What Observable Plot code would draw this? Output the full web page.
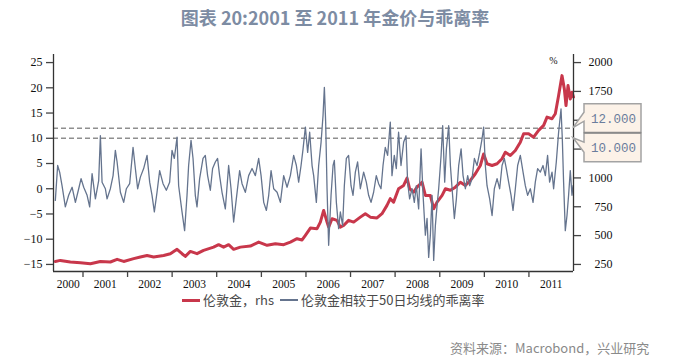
<!DOCTYPE html>
<html><head><meta charset="utf-8">
<script src="https://cdn.jsdelivr.net/npm/d3@7"></script>
<script src="https://cdn.jsdelivr.net/npm/@observablehq/plot@0.6"></script>
<style>
body{margin:0;background:#fff;}
#wrap{position:relative;width:688px;height:362px;overflow:hidden;font-family:"Noto Sans CJK SC",sans-serif;}
#chart{position:absolute;left:0;top:0;}
#title{position:absolute;left:0;top:6px;width:670px;text-align:center;font-size:18px;line-height:22px;font-weight:bold;color:#7d8ca3;}
#legend{position:absolute;left:182px;top:292px;font-size:13px;line-height:16px;color:#4a4a4a;display:flex;align-items:center;white-space:nowrap;}
.sw{display:inline-block;width:18px;margin-right:3px;}
#source{position:absolute;left:450px;top:339px;font-size:13px;line-height:18px;color:#8a8a8a;white-space:nowrap;}
</style></head>
<body>
<div id="wrap">
<div id="chart"></div>
<div id="title"></div>
<div id="legend"></div>
<div id="source"></div>
</div>
<script>
// ---------- text ----------
const titleText = "图表 20:2001 至 2011 年金价与乖离率";
const sourceText = "资料来源：Macrobond，兴业研究";
const seriesNames = ["伦敦金，rhs", "伦敦金相较于50日均线的乖离率"];
const unitLabel = "%";
const calloutLabels = ["12.000", "10.000"];

// ---------- axes ----------
const leftTicks = [-15, -10, -5, 0, 5, 10, 15, 20, 25];
const rightTicks = [250, 500, 750, 1000, 1250, 1500, 1750, 2000];
const rightLabels = [250, 500, 750, 1000, 1750, 2000];   // 1250 / 1500 sit behind the callouts
const yearLabels = [2000, 2001, 2002, 2003, 2004, 2005, 2006, 2007, 2008, 2009, 2010, 2011];
const xStart = 2000.34, xEnd = 2012.0;       // decimal years
const yLeftDomain = [-16.4, 26.6];
const refLines = [12, 10];
// right axis (USD) aligned to left axis (%): 25 <-> 2000, -15 <-> 250
const rhsAt0 = 906.25, rhsPerUnit = 43.75;

// ---------- data: [decimal year, value] ----------
const goldPrice = [
[2000.381,276],[2000.493,285],[2000.717,271],[2000.942,265],[2001.166,256],[2001.390,276],[2001.614,271],
[2001.765,294],[2001.913,276],[2002.137,300],[2002.287,315],[2002.437,328],[2002.585,315],[2002.809,328],
[2002.960,343],[2003.110,381],[2003.222,343],[2003.296,320],[2003.408,363],[2003.558,343],[2003.706,372],
[2003.930,400],[2004.043,421],[2004.155,400],[2004.267,421],[2004.379,381],[2004.529,400],[2004.753,409],
[2004.939,444],[2005.128,416],[2005.314,430],[2005.500,421],[2005.650,444],[2005.800,473],[2005.913,462],
[2005.987,502],[2006.099,565],[2006.249,560],[2006.323,617],[2006.397,718],[2006.473,617],[2006.509,574],
[2006.585,646],[2006.697,632],[2006.771,574],[2006.845,588],[2006.957,632],[2007.070,617],[2007.220,660],
[2007.332,690],[2007.444,660],[2007.594,653],[2007.706,690],[2007.818,762],[2007.892,820],[2007.966,790],
[2008.078,906],[2008.191,935],[2008.267,998],[2008.325,906],[2008.415,877],[2008.491,920],[2008.603,963],
[2008.677,848],[2008.789,848],[2008.863,733],[2008.939,790],[2009.052,848],[2009.126,906],[2009.238,893],
[2009.350,920],[2009.462,963],[2009.574,935],[2009.686,978],[2009.798,1036],[2009.910,1108],[2009.984,1208],
[2010.060,1123],[2010.173,1108],[2010.285,1123],[2010.397,1166],[2010.471,1223],[2010.583,1194],[2010.695,1238],
[2010.807,1310],[2010.881,1383],[2010.993,1383],[2011.105,1353],[2011.217,1412],[2011.330,1455],[2011.406,1527],
[2011.518,1513],[2011.592,1556],[2011.666,1715],[2011.742,1887],[2011.794,1772],[2011.832,1628],[2011.877,1801],
[2011.928,1685],[2011.966,1743],[2012.000,1700]
];
const deviation = [
[2000.381,-2.3],[2000.433,4.6],[2000.478,3.3],[2000.531,0.6],[2000.605,-3.6],[2000.679,-1.3],[2000.756,0.3],
[2000.830,-2.7],[2000.904,0],[2000.957,2],[2001.016,0.3],[2001.092,-1.3],[2001.150,-3.6],[2001.204,3],
[2001.278,-2],[2001.352,1.6],[2001.390,10.5],[2001.428,1.3],[2001.502,0],[2001.540,-2],[2001.614,0],
[2001.675,2.6],[2001.726,7.6],[2001.765,5.3],[2001.839,-0.7],[2001.913,-2.7],[2001.973,0],[2002.047,1],
[2002.123,8.2],[2002.175,4],[2002.226,0],[2002.287,2.3],[2002.361,4],[2002.437,6.6],[2002.496,1.3],
[2002.549,-1.3],[2002.601,-4.6],[2002.661,-0.7],[2002.720,3.6],[2002.796,1],[2002.870,-0.3],[2002.944,1.3],
[2002.998,7.6],[2003.049,6],[2003.110,10.2],[2003.146,0.6],[2003.222,-4.6],[2003.280,-8.3],
[2003.334,-1.3],[2003.370,4.6],[2003.424,9.6],[2003.469,6],[2003.520,-1.3],[2003.558,-3.6],[2003.617,2],
[2003.693,6],[2003.744,6.6],[2003.796,2.6],[2003.857,-0.3],[2003.908,4],[2003.969,5.3],[2004.020,6],
[2004.065,2.6],[2004.119,-0.7],[2004.193,-4],[2004.267,4.6],[2004.321,0],[2004.379,-6.6],[2004.439,-2],
[2004.513,3.6],[2004.567,1],[2004.641,-0.7],[2004.715,2.6],[2004.791,4],[2004.865,2.6],[2004.939,6],
[2004.993,2.6],[2005.052,-2.7],[2005.112,-4.3],[2005.164,-1.3],[2005.217,3.6],[2005.276,0],[2005.352,-0.7],
[2005.426,-2.7],[2005.500,2.6],[2005.576,0.3],[2005.650,2.6],[2005.724,6.6],[2005.785,4.6],[2005.836,1.3],
[2005.890,4.6],[2005.935,7.9],[2005.987,12.2],[2006.038,7.2],[2006.083,11.2],[2006.137,4.6],
[2006.173,2.6],[2006.233,-2.7],[2006.285,4.6],[2006.339,9.2],[2006.383,14.5],[2006.413,20.1],[2006.442,13.2],
[2006.473,0],[2006.509,-11.2],[2006.563,-1.3],[2006.608,4.6],[2006.637,5.6],[2006.682,-2.7],[2006.733,-7.9],
[2006.771,-4.6],[2006.823,-7.3],[2006.861,0.6],[2006.906,6],[2006.957,6.6],[2007.011,0.6],[2007.056,-1.3],
[2007.108,3.3],[2007.159,5.3],[2007.220,0],[2007.294,3.3],[2007.354,1.3],[2007.406,-1.3],[2007.460,-2.7],
[2007.518,-0.7],[2007.578,2.6],[2007.630,1],[2007.684,0],[2007.729,4.6],[2007.780,8.2],[2007.832,6.6],
[2007.892,13.2],[2007.930,2.6],[2007.982,6.6],[2008.027,4],[2008.078,11.2],[2008.132,4.6],[2008.191,9.2],
[2008.244,10.5],[2008.280,1.3],[2008.325,-2],[2008.379,0],[2008.430,-2.7],[2008.475,0.6],[2008.527,-4],
[2008.581,7.9],[2008.626,-1.3],[2008.677,-9.2],[2008.715,-5.9],[2008.751,-13.6],[2008.789,-9.2],[2008.827,-1.3],
[2008.863,-14.2],[2008.901,-7.3],[2008.939,-3.3],[2008.975,0],[2009.029,6.6],[2009.065,12.5],[2009.110,1.3],
[2009.148,7.9],[2009.200,12.5],[2009.238,4.6],[2009.276,0],[2009.327,-5.9],[2009.372,-2],[2009.424,4.6],
[2009.478,7.9],[2009.522,2.6],[2009.574,0],[2009.626,2.6],[2009.670,0.6],[2009.724,2],[2009.776,6],
[2009.836,4.6],[2009.895,7.2],[2009.948,9.9],[2009.984,12.2],[2010.022,4.6],[2010.060,0.6],[2010.119,-2],
[2010.173,-5.3],[2010.224,0],[2010.285,2],[2010.343,0],[2010.397,4.6],[2010.448,6],[2010.493,4],
[2010.545,1.3],[2010.599,-1.3],[2010.643,-4.3],[2010.695,0],[2010.747,4.6],[2010.807,6.6],[2010.868,3.3],
[2010.919,0.6],[2010.971,-1.3],[2011.031,0],[2011.092,-2.7],[2011.143,1.3],[2011.195,4],[2011.256,3.3],
[2011.316,4.6],[2011.368,2.6],[2011.419,6.6],[2011.464,1.3],[2011.518,3.3],[2011.554,0],[2011.614,5.3],
[2011.666,11.2],[2011.720,15.8],[2011.749,9.9],[2011.778,1.3],[2011.816,-8.3],[2011.854,-5.3],[2011.890,-1.3],
[2011.928,3.6],[2011.966,-1.3],[2011.989,0.6]
];

// ---------- style ----------
const RED = "#c8374b", BLUE = "#65748e", AXIS = "#333", DASH = "#8f8f8f";
const serif = "'Liberation Serif','Times New Roman',serif";

// ---------- helpers ----------
function dy(t){const y=Math.floor(t);const s=Date.UTC(y,0,1),e=Date.UTC(y+1,0,1);return new Date(s+(t-y)*(e-s));}
const toLeft = g => (g - rhsAt0) / rhsPerUnit;
const toRhs = v => Math.round(v * rhsPerUnit + rhsAt0);
const x0 = dy(xStart), x1 = dy(xEnd);
const yearStarts = yearLabels.slice(1).map(y => new Date(Date.UTC(y,0,1)));
const labelPos = yearLabels.map(y => {
  const a = Math.max(+new Date(Date.UTC(y,0,1)), +x0), b = Math.min(+new Date(Date.UTC(y+1,0,1)), +x1);
  return new Date((a + b) / 2);
});
const goldData = goldPrice.map(([t,g]) => ({date: dy(t), v: toLeft(g)}));
const devData = deviation.map(([t,v]) => ({date: dy(t), v}));

const W = 688, H = 300;
const plot = Plot.plot({
  width: W, height: H,
  marginLeft: 53, marginRight: 115, marginTop: 54, marginBottom: 29,
  style: {fontFamily: serif, fontSize: "12px", color: "#111", background: "transparent"},
  x: {type: "utc", domain: [x0, x1]},
  y: {domain: yLeftDomain},
  marks: [
    Plot.ruleY(refLines, {stroke: DASH, strokeWidth: 1.4, strokeDasharray: "5,3"}),
    Plot.line(goldData, {x: "date", y: "v", stroke: RED, strokeWidth: 3}),
    Plot.line(devData, {x: "date", y: "v", stroke: BLUE, strokeWidth: 1.3}),
    Plot.ruleX([x0, x1], {stroke: AXIS, strokeWidth: 1.3}),
    Plot.ruleY([yLeftDomain[0]], {stroke: AXIS, strokeWidth: 1.3}),
    Plot.axisY({anchor: "left", ticks: leftTicks, tickSize: 7, tickPadding: 4, stroke: "#444", strokeWidth: 1.3, label: null}),
    Plot.axisY({anchor: "right", ticks: rightTicks.map(toLeft), tickSize: 7, tickFormat: () => "", stroke: "#444", strokeWidth: 1.3, label: null}),
    Plot.axisY({anchor: "right", ticks: rightLabels.map(toLeft), tickFormat: v => String(toRhs(v)),
      tickSize: 0, tickPadding: 0, textAnchor: "end", dx: 39, label: null}),
    Plot.axisX({ticks: yearStarts, tickSize: 6, tickFormat: () => "", stroke: "#444", strokeWidth: 1.3, label: null}),
    Plot.axisX({ticks: labelPos, tickSize: 0, tickPadding: 8, tickFormat: d => String(d.getUTCFullYear()), fontSize: 11.5, label: null}),
    Plot.text([unitLabel], {frameAnchor: "top-right", dx: -20, dy: 2, textAnchor: "middle", fontSize: 10})
  ]
});
document.getElementById("chart").appendChild(plot);

// ---------- callout boxes for the reference lines ----------
(function(){
  const ys = plot.scale("y");
  const xr = W - 115;
  const yA = ys.apply(refLines[0]), yB = ys.apply(refLines[1]);
  const mid = (yA + yB) / 2;
  const bx0 = xr + 11, bx1 = xr + 68, bh = 29;
  const svg = d3.select(plot);
  const g = svg.append("g");
  const p1 = `M${bx0},${mid-bh}H${bx1}V${mid}H${bx0}V${mid-11.5}L${xr},${yA}L${bx0},${mid-20.5}Z`;
  const p2 = `M${bx0},${mid}H${bx1}V${mid+bh}H${bx0}V${mid+19.5}L${xr},${yB}L${bx0},${mid+9.5}Z`;
  [p1, p2].forEach(p => g.append("path").attr("d", p).attr("fill", "#fcf2e8").attr("stroke", "#a3a3a3").attr("stroke-width", 1.5));
  g.append("line").attr("x1", bx0).attr("x2", bx1).attr("y1", mid).attr("y2", mid).attr("stroke", "#8a8a8a").attr("stroke-width", 2);
  [[calloutLabels[0], mid - 14], [calloutLabels[1], mid + 14.5]].forEach(([t, y]) =>
    g.append("text").attr("x", (bx0 + bx1) / 2 + 1).attr("y", y).attr("dy", "0.35em").attr("text-anchor", "middle")
      .attr("font-family", "'Liberation Mono','DejaVu Sans Mono',monospace").attr("font-size", 12.5).attr("fill", "#6a7d9c").text(t));
})();

// ---------- title, legend, source ----------
document.getElementById("title").textContent = titleText;
document.getElementById("source").textContent = sourceText;
const lg = document.getElementById("legend");
[[RED, 3, seriesNames[0]], [BLUE, 1.5, seriesNames[1]]].forEach(([c, w, name], i) => {
  const sw = document.createElement("span");
  sw.className = "sw"; sw.style.height = w + "px"; sw.style.background = c;
  if (i > 0) sw.style.marginLeft = "6px";
  const tx = document.createElement("span"); tx.textContent = name;
  lg.appendChild(sw); lg.appendChild(tx);
});
</script>
</body></html>
